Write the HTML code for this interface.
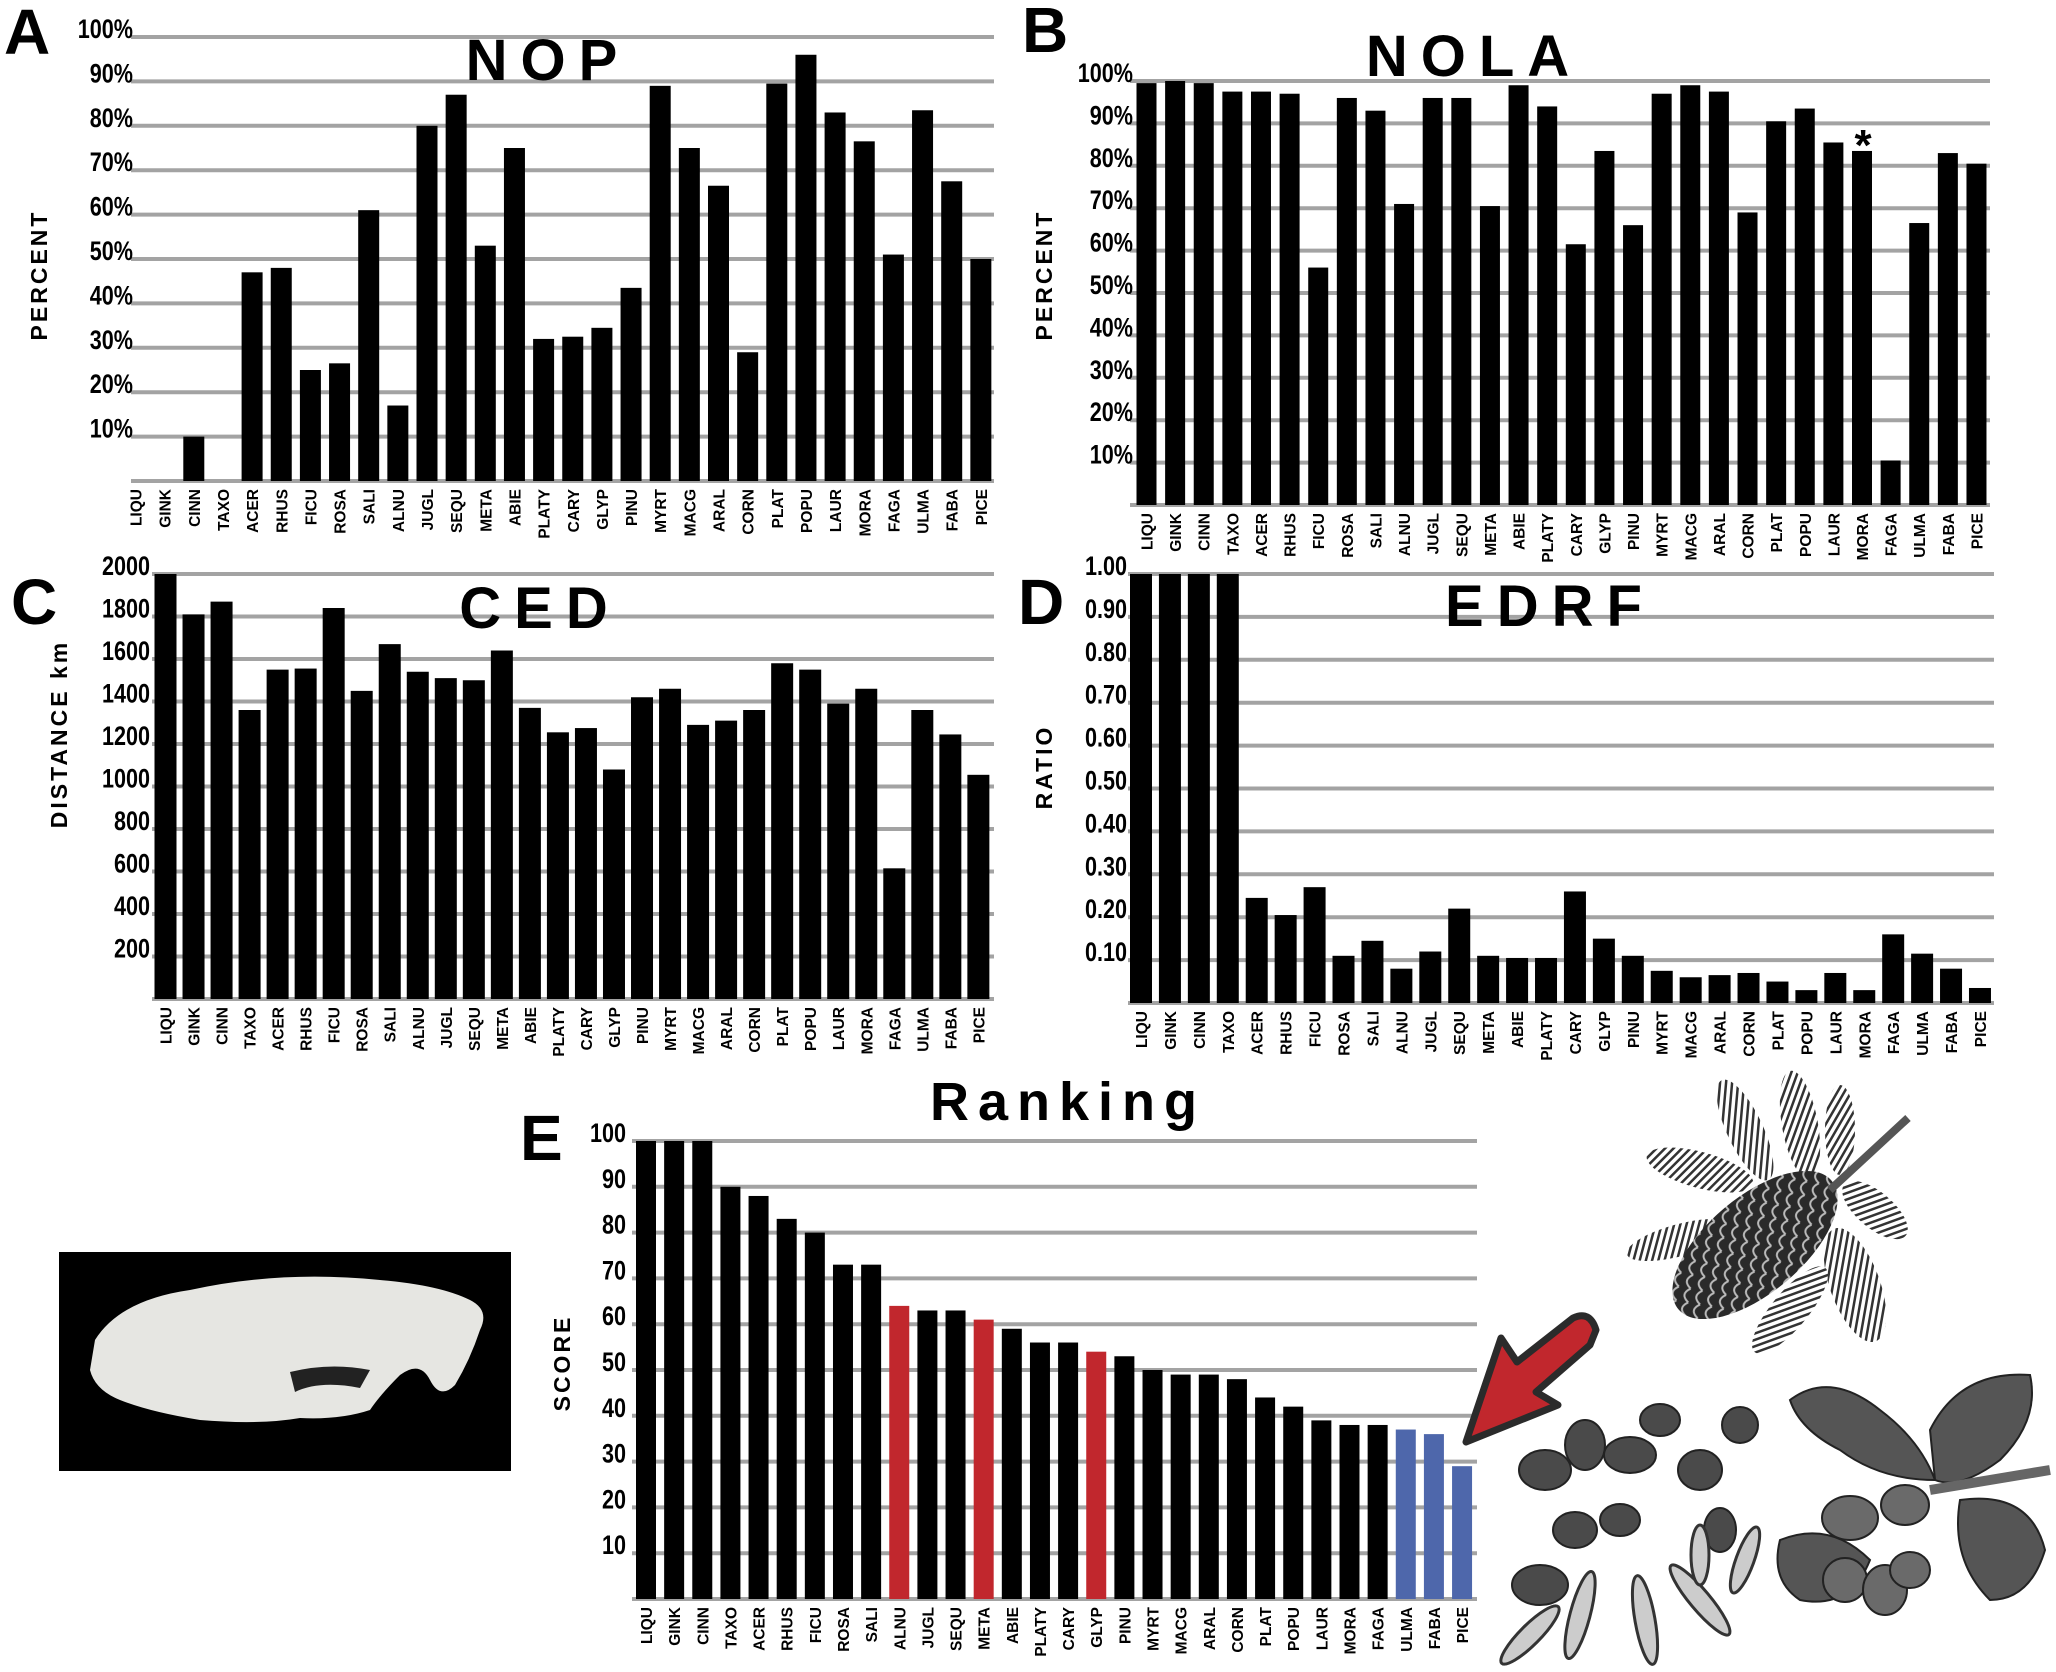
<!DOCTYPE html>
<html><head><meta charset="utf-8"><style>
html,body{margin:0;padding:0;background:#fff;}
svg{display:block;}
text{font-family:"Liberation Sans",sans-serif;font-weight:bold;}
</style></head><body>
<svg id="s" width="2056" height="1672" viewBox="0 0 2056 1672" xmlns="http://www.w3.org/2000/svg">
<defs>
<pattern id="scale" width="14" height="12" patternUnits="userSpaceOnUse" patternTransform="rotate(-40)">
<rect width="14" height="12" fill="#2a2a2a"/><path d="M0 10 Q7 0 14 10" fill="none" stroke="#bbb" stroke-width="2"/>
</pattern>
<pattern id="needle" width="6" height="6" patternUnits="userSpaceOnUse" patternTransform="rotate(30)">
<rect width="6" height="6" fill="#fff"/><rect width="2.5" height="6" fill="#333"/>
</pattern>
</defs>
<g id="charts"></g>
<!-- skull photo -->
<rect x="59" y="1252" width="452" height="219" fill="#000"/>
<path d="M95 1340 Q120 1300 190 1290 Q280 1270 380 1280 Q440 1285 470 1300 Q490 1310 480 1330 Q470 1360 455 1385 Q440 1400 430 1380 Q420 1360 400 1375 Q380 1395 370 1410 Q340 1420 300 1418 Q260 1425 200 1420 Q150 1412 120 1400 Q95 1390 90 1370 Z" fill="#e6e6e2"/>
<path d="M290 1372 Q330 1362 370 1370 L360 1388 Q320 1380 295 1392 Z" fill="#222"/>
<!-- pine -->
<g>
<ellipse cx="1700" cy="1170" rx="55" ry="18" fill="url(#needle)" transform="rotate(15 1700 1170)"/>
<ellipse cx="1745" cy="1130" rx="18" ry="55" fill="url(#needle)" transform="rotate(-25 1745 1130)"/>
<ellipse cx="1800" cy="1125" rx="18" ry="55" fill="url(#needle)" transform="rotate(-10 1800 1125)"/>
<ellipse cx="1840" cy="1130" rx="15" ry="45" fill="url(#needle)"/>
<ellipse cx="1680" cy="1240" rx="55" ry="16" fill="url(#needle)" transform="rotate(-15 1680 1240)"/>
<ellipse cx="1875" cy="1210" rx="40" ry="18" fill="url(#needle)" transform="rotate(40 1875 1210)"/>
<ellipse cx="1855" cy="1285" rx="25" ry="60" fill="url(#needle)" transform="rotate(-20 1855 1285)"/>
<ellipse cx="1790" cy="1310" rx="18" ry="55" fill="url(#needle)" transform="rotate(40 1790 1310)"/>
<ellipse cx="1755" cy="1245" rx="100" ry="48" fill="url(#scale)" transform="rotate(-40 1755 1245)"/>
<line x1="1830" y1="1190" x2="1908" y2="1118" stroke="#555" stroke-width="8"/>
</g>
<!-- arrow -->
<path d="M1466 1442 L1501 1338 L1517 1362 L1573 1318 Q1590 1310 1596 1330 L1590 1345 L1536 1392 L1558 1405 Z" fill="#c1272d" stroke="#2b2b2b" stroke-width="7" stroke-linejoin="round"/>
<!-- peas -->
<g fill="#4a4a4a" stroke="#222" stroke-width="2">
<ellipse cx="1545" cy="1470" rx="26" ry="20"/>
<ellipse cx="1540" cy="1585" rx="28" ry="20"/>
<ellipse cx="1585" cy="1445" rx="20" ry="25"/>
<ellipse cx="1630" cy="1455" rx="26" ry="18"/>
<ellipse cx="1575" cy="1530" rx="22" ry="18"/>
<ellipse cx="1660" cy="1420" rx="20" ry="16"/>
<ellipse cx="1700" cy="1470" rx="22" ry="20"/>
<ellipse cx="1740" cy="1425" rx="18" ry="18"/>
<ellipse cx="1720" cy="1530" rx="16" ry="22"/>
<ellipse cx="1620" cy="1520" rx="20" ry="16"/>
</g>
<g fill="#ccc" stroke="#333" stroke-width="3">
<ellipse cx="1530" cy="1635" rx="10" ry="40" transform="rotate(45 1530 1635)"/>
<ellipse cx="1580" cy="1615" rx="10" ry="45" transform="rotate(15 1580 1615)"/>
<ellipse cx="1645" cy="1620" rx="10" ry="45" transform="rotate(-10 1645 1620)"/>
<ellipse cx="1700" cy="1600" rx="10" ry="45" transform="rotate(-40 1700 1600)"/>
<ellipse cx="1745" cy="1560" rx="9" ry="35" transform="rotate(20 1745 1560)"/>
<ellipse cx="1700" cy="1555" rx="9" ry="30"/>
</g>
<!-- oak -->
<g fill="#555" stroke="#222" stroke-width="2">
<path d="M1790 1400 Q1830 1370 1880 1410 Q1920 1440 1935 1480 Q1880 1480 1840 1450 Q1800 1430 1790 1400Z"/>
<path d="M1930 1430 Q1960 1370 2030 1375 Q2040 1420 2000 1460 Q1960 1490 1935 1480Z"/>
<path d="M1960 1500 Q2030 1490 2045 1550 Q2030 1600 1990 1600 Q1950 1560 1960 1500Z"/>
<path d="M1780 1540 Q1830 1520 1870 1560 Q1850 1610 1800 1600 Q1770 1580 1780 1540Z"/>
</g>
<g fill="#6a6a6a" stroke="#222" stroke-width="2">
<ellipse cx="1850" cy="1518" rx="28" ry="22"/>
<ellipse cx="1845" cy="1580" rx="22" ry="22"/>
<ellipse cx="1885" cy="1590" rx="22" ry="25"/>
<ellipse cx="1905" cy="1505" rx="24" ry="20"/>
<ellipse cx="1910" cy="1570" rx="20" ry="18"/>
</g>
<path d="M1930 1490 L2050 1470" stroke="#666" stroke-width="10"/>
</svg>
<script>
(function(){
var NS="http://www.w3.org/2000/svg",g=document.getElementById("charts");
function el(t,a,txt){var e=document.createElementNS(NS,t);for(var k in a)e.setAttribute(k,a[k]);if(txt!=null)e.textContent=txt;g.appendChild(e);return e;}
var cats=["LIQU","GINK","CINN","TAXO","ACER","RHUS","FICU","ROSA","SALI","ALNU","JUGL","SEQU","META","ABIE","PLATY","CARY","GLYP","PINU","MYRT","MACG","ARAL","CORN","PLAT","POPU","LAUR","MORA","FAGA","ULMA","FABA","PICE"];
function panel(o){
  var n=10;
  for(var i=0;i<=n;i++){var y=o.bot-(o.bot-o.top)*i/n;
    el("line",{x1:o.l,x2:o.r,y1:y,y2:y,stroke:"#a3a3a3","stroke-width":4});
    if(i>0){el("text",{x:0,y:0,"text-anchor":"end","font-size":27,transform:"translate("+o.tx+","+(y+1)+") scale(0.8,1)"},o.tl(i));}
  }
  for(var j=0;j<30;j++){var v=o.v[j]/o.max,h=(o.bot-o.top)*v;var x=o.b0+o.p*j;
    var c=o.col?o.col(j):"#000";
    if(h>0)el("rect",{x:x,y:o.bot-h,width:o.w,height:h,fill:c});
    var cx=x+o.w/2+6;
    el("text",{x:0,y:0,"font-size":15.5,"text-anchor":"end",transform:"translate("+cx+","+(o.bot+8)+") rotate(-90)"},cats[j]);
  }
  el("text",{x:o.tcx,y:o.tcy,"text-anchor":"middle","font-size":o.tfs||58,"letter-spacing":o.tls||13},o.title);
  el("text",{x:0,y:0,"text-anchor":"middle","font-size":23,"letter-spacing":3,transform:"translate("+o.ylx+","+o.yly+") rotate(-90)"},o.yl);
  el("text",{x:o.lx,y:o.ly,"font-size":64},o.L);
}
function pct(i){return (i*10)+"%";}
panel({l:131,r:994,top:37,bot:481,b0:125,p:29.15,w:21,max:100,tx:133,tl:pct,
 v:[0,0,10,0,47,48,25,26.5,61,17,80,87,53,75,32,32.5,34.5,43.5,89,75,66.5,29,89.5,96,83,76.5,51,83.5,67.5,50],
 title:"NOP",tcx:548,tcy:80,yl:"PERCENT",ylx:47,yly:275,L:"A",lx:4,ly:54});
panel({l:1130,r:1990,top:81,bot:505,b0:1136.5,p:28.62,w:20,max:100,tx:1133,tl:pct,
 v:[99.5,100,99.5,97.5,97.5,97,56,96,93,71,96,96,70.5,99,94,61.5,83.5,66,97,99,97.5,69,90.5,93.5,85.5,83.5,10.5,66.5,83,80.5],
 title:"NOLA",tcx:1474,tcy:76,yl:"PERCENT",ylx:1052,yly:275,L:"B",lx:1022,ly:52});
panel({l:152,r:994,top:574,bot:999,b0:154.5,p:28.03,w:22,max:2000,tx:150,tl:function(i){return String(i*200);},
 v:[2000,1810,1870,1360,1550,1555,1840,1450,1670,1540,1510,1500,1640,1370,1255,1275,1080,1420,1460,1290,1310,1360,1580,1550,1390,1460,615,1360,1245,1055],
 title:"CED",tcx:540,tcy:628,yl:"DISTANCE km",ylx:67,yly:734,L:"C",lx:11,ly:624});
panel({l:1128,r:1994,top:574,bot:1003,b0:1130,p:28.93,w:22,max:1,tx:1127,tl:function(i){return (i/10).toFixed(2);},
 v:[1,1,1,1,.245,.205,.27,.11,.145,.08,.12,.22,.11,.105,.105,.26,.15,.11,.075,.06,.065,.07,.05,.03,.07,.03,.16,.115,.08,.035],
 title:"EDRF",tcx:1550,tcy:626,yl:"RATIO",ylx:1052,yly:767,L:"D",lx:1018,ly:624});
panel({l:632,r:1477,top:1141,bot:1599,b0:636,p:28.14,w:20,max:100,tx:626,tl:function(i){return String(i*10);},
 v:[100,100,100,90,88,83,80,73,73,64,63,63,61,59,56,56,54,53,50,49,49,48,44,42,39,38,38,37,36,29],
 col:function(j){return (j==9||j==12||j==16)?"#c1272d":(j>=27?"#4e67ab":"#000");},
 title:"Ranking",tcx:1068,tcy:1120,tfs:54,tls:9,yl:"SCORE",ylx:570,yly:1363,L:"E",lx:520,ly:1160});
el("text",{x:1863,y:160,"text-anchor":"middle","font-size":44},"*");
})();
</script>
</body></html>
